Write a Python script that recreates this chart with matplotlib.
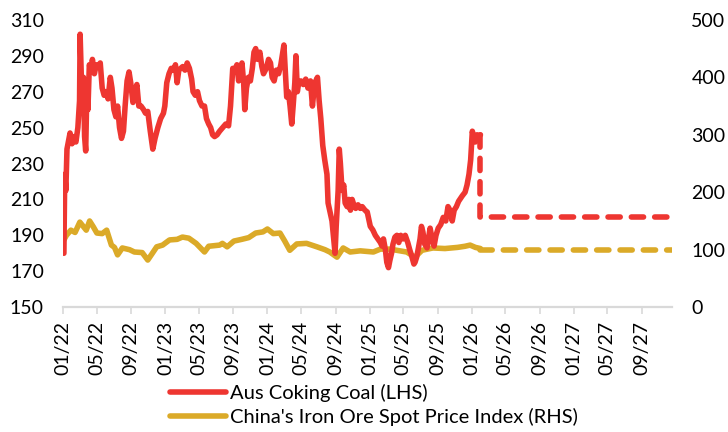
import numpy as np
import pandas as pd
import matplotlib
matplotlib.use("Agg")
import matplotlib.pyplot as plt
import matplotlib.dates as mdates

# Aus coking coal, LHS
coal_dates = [
    "2022-01-03", "2022-01-06", "2022-01-10", "2022-01-14", "2022-01-20", "2022-01-25",
    "2022-02-01", "2022-02-08", "2022-02-15", "2022-02-22", "2022-02-28", "2022-03-02",
    "2022-03-06", "2022-03-10", "2022-03-14", "2022-03-18", "2022-03-22", "2022-03-26",
    "2022-03-30", "2022-04-04", "2022-04-10", "2022-04-15", "2022-04-22", "2022-04-29",
    "2022-05-06", "2022-05-13", "2022-05-20", "2022-05-27", "2022-06-03", "2022-06-10",
    "2022-06-18", "2022-06-24", "2022-07-01", "2022-07-08", "2022-07-14", "2022-07-21",
    "2022-07-28", "2022-08-04", "2022-08-10", "2022-08-17", "2022-08-24", "2022-08-30",
    "2022-09-07", "2022-09-14", "2022-09-21", "2022-09-28", "2022-10-06", "2022-10-15",
    "2022-10-22", "2022-10-30", "2022-11-08", "2022-11-17", "2022-11-25", "2022-12-05",
    "2022-12-15", "2022-12-25", "2022-12-30",
    "2023-01-06", "2023-01-14", "2023-01-22", "2023-01-30", "2023-02-06", "2023-02-12",
    "2023-02-18", "2023-02-25", "2023-03-04", "2023-03-12", "2023-03-20", "2023-03-28",
    "2023-04-05", "2023-04-10", "2023-04-18", "2023-04-26", "2023-05-03", "2023-05-12",
    "2023-05-21", "2023-05-28", "2023-06-05", "2023-06-12", "2023-06-19", "2023-06-26",
    "2023-07-05", "2023-07-14", "2023-07-25", "2023-08-05", "2023-08-15", "2023-08-22",
    "2023-08-30", "2023-09-06", "2023-09-14", "2023-09-20", "2023-09-25", "2023-10-02",
    "2023-10-08", "2023-10-12", "2023-10-18", "2023-10-25", "2023-11-01", "2023-11-08",
    "2023-11-14", "2023-11-20", "2023-11-27", "2023-12-05", "2023-12-12", "2023-12-18",
    "2023-12-28",
    "2024-01-05", "2024-01-12", "2024-01-18", "2024-01-25", "2024-02-02", "2024-02-10",
    "2024-02-18", "2024-02-26", "2024-02-29", "2024-03-05", "2024-03-10", "2024-03-16",
    "2024-03-22", "2024-03-28", "2024-04-02", "2024-04-08", "2024-04-12", "2024-04-17",
    "2024-04-22", "2024-04-30", "2024-05-08", "2024-05-17", "2024-05-25", "2024-06-03",
    "2024-06-10", "2024-06-15", "2024-06-22", "2024-06-28", "2024-07-04", "2024-07-10",
    "2024-07-17", "2024-07-24", "2024-08-01", "2024-08-05", "2024-08-12", "2024-08-19",
    "2024-08-24", "2024-08-30", "2024-09-03", "2024-09-10", "2024-09-14", "2024-09-18",
    "2024-09-24", "2024-09-30", "2024-10-05", "2024-10-12", "2024-10-18", "2024-10-24",
    "2024-10-30", "2024-11-05", "2024-11-12", "2024-11-20", "2024-11-28", "2024-12-05",
    "2024-12-15", "2024-12-23",
    "2025-01-03", "2025-01-12", "2025-01-21", "2025-01-30", "2025-02-08", "2025-02-14",
    "2025-02-19", "2025-02-26", "2025-03-03", "2025-03-09", "2025-03-14", "2025-03-20",
    "2025-03-25", "2025-04-01", "2025-04-08", "2025-04-15", "2025-04-22", "2025-04-30",
    "2025-05-08", "2025-05-17", "2025-05-24", "2025-06-01", "2025-06-08", "2025-06-12",
    "2025-06-18", "2025-06-23", "2025-06-30", "2025-07-05", "2025-07-10", "2025-07-17",
    "2025-07-25", "2025-08-01", "2025-08-05", "2025-08-12", "2025-08-19", "2025-08-26",
    "2025-09-03", "2025-09-12", "2025-09-21", "2025-09-30", "2025-10-08", "2025-10-15",
    "2025-10-23", "2025-10-30", "2025-11-07", "2025-11-15", "2025-11-28", "2025-12-08",
    "2025-12-15", "2025-12-22", "2025-12-28",
    "2026-01-03", "2026-01-08", "2026-01-14", "2026-01-20", "2026-01-27", "2026-02-01",
]
coal_values = [
    180, 224, 215, 238, 243, 247,
    241, 245, 242, 250, 265, 302,
    280, 265, 278, 245, 237, 270,
    260, 285, 282, 288, 280, 285,
    284, 286, 272, 268, 270, 266,
    278, 272, 260, 256, 262, 250,
    244, 248, 262, 276, 281, 275,
    264, 270, 274, 262, 262, 260,
    258, 259, 248, 238, 244, 250,
    255, 258, 262,
    275, 280, 283, 282, 285, 275,
    282, 283, 284, 282, 286, 283,
    277, 270, 268, 270, 265, 262,
    262, 255, 252, 250, 246, 245,
    246, 248, 250, 252, 251, 262,
    283, 282, 285, 276, 282, 286,
    275, 260, 272, 278, 276, 283,
    292, 294, 288, 292, 284, 280,
    283,
    288, 286, 278, 276, 282, 280,
    285, 293, 296, 282, 267, 270,
    262, 252, 262, 275, 290, 270,
    275, 276, 274, 277, 272, 276,
    262, 270, 276, 278, 265, 255,
    240, 232, 224, 208, 203, 198,
    190, 180, 195, 215, 238, 230,
    215, 218, 208, 206, 210, 204,
    210, 207, 205, 207, 205, 206,
    204, 203,
    195, 193, 190, 188, 186, 184,
    188, 182, 175, 172, 176, 180,
    185, 189, 190, 186, 190, 188,
    190, 186, 182, 178, 174, 175,
    178, 182, 188, 195, 192, 185,
    183, 190, 194, 188, 184, 190,
    194, 196, 200, 198, 206, 204,
    198, 204, 206, 209, 212, 214,
    218, 224, 232,
    248, 244, 242, 246, 245, 246,
]

# China's iron ore spot price index, RHS
ore_dates = [
    "2022-01-03", "2022-01-12", "2022-01-28", "2022-02-12", "2022-03-01", "2022-03-24",
    "2022-04-05", "2022-04-18", "2022-05-01", "2022-05-20", "2022-06-05", "2022-06-22",
    "2022-07-03", "2022-07-14", "2022-07-31", "2022-08-26", "2022-09-12", "2022-10-10",
    "2022-10-30", "2022-11-13", "2022-12-01", "2022-12-22", "2023-01-16", "2023-02-12",
    "2023-03-03", "2023-03-26", "2023-04-21", "2023-05-21", "2023-06-05", "2023-07-14",
    "2023-07-24", "2023-08-10", "2023-09-03", "2023-10-01", "2023-10-26", "2023-11-20",
    "2023-12-16", "2024-01-01", "2024-01-22", "2024-02-15", "2024-03-03", "2024-03-21",
    "2024-04-15", "2024-05-20", "2024-06-26", "2024-07-25", "2024-08-11", "2024-09-06",
    "2024-09-28", "2024-10-23", "2024-11-28", "2025-01-14", "2025-02-08", "2025-03-14",
    "2025-04-19", "2025-05-13", "2025-06-12", "2025-07-07", "2025-08-15", "2025-09-27",
    "2025-11-11", "2025-12-08", "2025-12-26", "2026-01-14", "2026-02-01",
]
ore_values = [
    117, 125, 134, 130, 148, 134,
    150, 140, 129, 128, 134, 108,
    104, 91, 103, 100, 96, 95,
    82, 92, 105, 108, 117, 118,
    122, 120, 111, 96, 106, 108,
    111, 105, 115, 118, 121, 129,
    131, 136, 128, 129, 115, 99,
    110, 111, 105, 100, 96, 87,
    103, 96, 98, 96, 101, 101,
    98, 96, 87, 99, 103, 102,
    104, 106, 108, 104, 102,
]

# forecasts (dashed)
coal_fc_dates = ["2026-02-01", "2026-02-01", "2027-12-20"]
coal_fc_values = [246, 200, 200]
ore_fc_dates = ["2026-02-01", "2027-12-20"]
ore_fc_values = [100, 100]

red = "#EE3631"
gold = "#DBAA28"
grey = "#D9D9D9"

plt.rcParams["font.family"] = ["Lato", "DejaVu Sans"]

fig = plt.figure(figsize=(7.28, 4.32), dpi=100)
ax = fig.add_axes([0.087, 0.289, 0.836, 0.665])
ax2 = ax.twinx()

lw = 4.0
ax.plot(pd.to_datetime(coal_dates), coal_values, color=red, lw=lw,
        solid_joinstyle="round", solid_capstyle="round", label="Aus Coking Coal (LHS)")
ax.plot(pd.to_datetime(coal_fc_dates), coal_fc_values, color=red, lw=lw,
        dashes=(2.2, 2.0), dash_capstyle="round")
ax2.plot(pd.to_datetime(ore_dates), ore_values, color=gold, lw=lw,
         solid_joinstyle="round", solid_capstyle="round",
         label="China's Iron Ore Spot Price Index (RHS)")
ax2.plot(pd.to_datetime(ore_fc_dates), ore_fc_values, color=gold, lw=lw,
         dashes=(2.2, 2.0), dash_capstyle="round")

# red drawn over the gold line
ax.set_zorder(ax2.get_zorder() + 1)
ax.patch.set_visible(False)

ax.set_ylim(150, 310)
ax.set_yticks(np.arange(150, 311, 20))
ax2.set_ylim(0, 500)
ax2.set_yticks(np.arange(0, 501, 100))
ax.set_xlim(pd.Timestamp("2022-01-01"), pd.Timestamp("2027-12-18"))

ax.xaxis.set_major_locator(mdates.MonthLocator(bymonth=[1, 5, 9]))
ax.xaxis.set_major_formatter(mdates.DateFormatter("%m/%y"))

for a in (ax, ax2):
    for s in ("top", "left", "right"):
        a.spines[s].set_visible(False)
ax.spines["bottom"].set_color(grey)
ax.spines["bottom"].set_linewidth(1.6)
ax2.spines["bottom"].set_visible(False)

ax.tick_params(axis="x", length=5, width=1.2, color=grey, pad=5,
               labelsize=14, labelrotation=90)
ax.tick_params(axis="y", length=0, pad=14, labelsize=14)
ax2.tick_params(axis="y", length=0, pad=14, labelsize=14)

h1, l1 = ax.get_legend_handles_labels()
h2, l2 = ax2.get_legend_handles_labels()
fig.legend(h1 + h2, l1 + l2, loc="upper left", bbox_to_anchor=(0.233, 0.112),
           frameon=False, handlelength=2.8, handletextpad=0.2,
           labelspacing=0.3, borderaxespad=0, borderpad=0,
           prop={"family": ["Lato"], "size": 14.5})

fig.savefig("out.png", dpi=100)
